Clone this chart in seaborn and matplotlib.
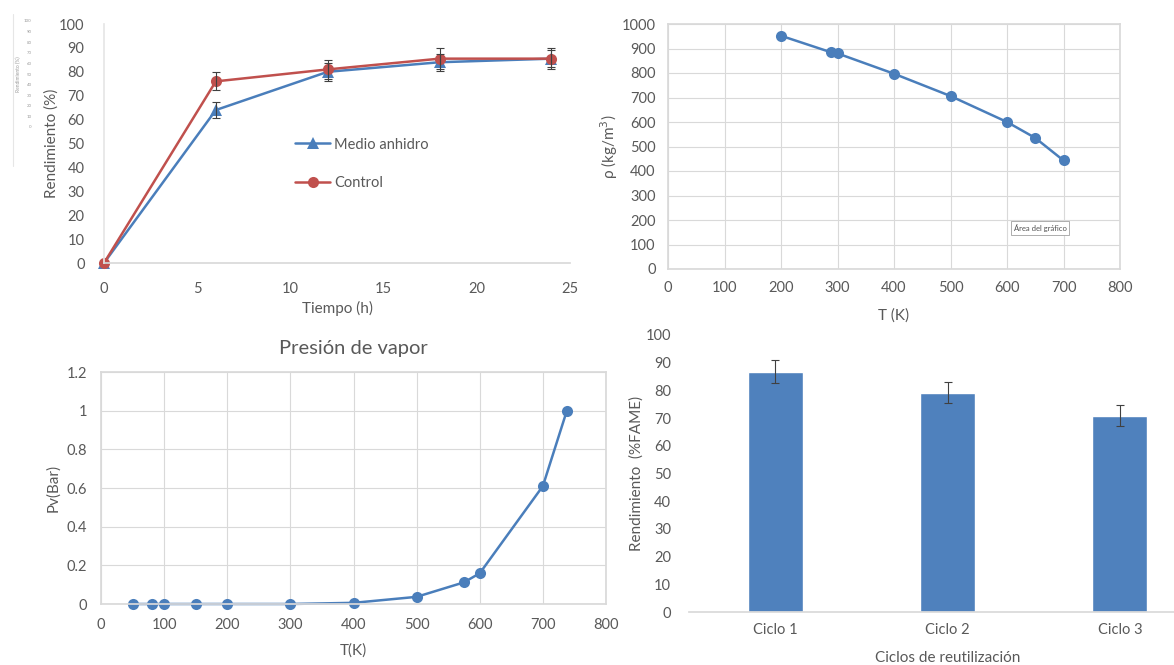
import numpy as np
import pandas as pd
import matplotlib
matplotlib.use("Agg")
import matplotlib.pyplot as plt
from matplotlib.lines import Line2D
import seaborn as sns

# --- data ---
tiempo = [0, 6, 12, 18, 24]
medio_anhidro = [0, 64, 80, 84, 85.5]
medio_anhidro_err = [0, 3.2, 3.8, 3.5, 3.5]
control = [0, 76, 81, 85.5, 85.5]
control_err = [0, 3.8, 4.0, 4.5, 4.4]

temp_rho = [200, 288, 300, 400, 500, 600, 650, 700]
rho = [952, 885, 880, 797, 706, 600, 535, 443]

temp_pv = [50, 80, 100, 150, 200, 300, 400, 500, 575, 600, 700, 738]
pv = [0, 0, 0, 0, 0, 0, 0.006, 0.037, 0.112, 0.159, 0.61, 1.0]

ciclos = ["Ciclo 1", "Ciclo 2", "Ciclo 3"]
rend_fame = [86.8, 79.2, 70.9]
rend_fame_err = [4.3, 3.9, 3.7]

mini_ticks = [0, 10, 20, 30, 40, 50, 60, 70, 80, 90, 100]

BLUE = "#4A7EBB"
BLUE_BAR = "#4F81BD"
RED = "#C0504D"
TXT = "#595959"
GRID = "#D9D9D9"

sns.set_theme(style="white")
plt.rcParams["font.family"] = ["Lato", "DejaVu Sans"]
plt.rcParams["text.color"] = TXT
plt.rcParams["axes.labelcolor"] = TXT
plt.rcParams["xtick.color"] = TXT
plt.rcParams["ytick.color"] = TXT

W, H = 1174, 665
fig = plt.figure(figsize=(W / 100, H / 100), dpi=100)


def rect(l, t, r, b):
    return [l / W, 1 - b / H, (r - l) / W, (b - t) / H]


def style(ax, grid=False, box=False, pad=10):
    for s in ax.spines.values():
        s.set_visible(False)
    ax.spines["bottom"].set_visible(True)
    ax.spines["bottom"].set_color(GRID)
    if box:
        for s in ax.spines.values():
            s.set_visible(True)
            s.set_color(GRID)
    if grid:
        ax.grid(True, color=GRID, lw=0.8)
        ax.set_axisbelow(True)
    else:
        ax.grid(False)
    ax.tick_params(length=0, labelsize=10.5, pad=pad)


# --- panel 1: rendimiento vs tiempo ---
ax1 = fig.add_axes(rect(104, 24, 570, 263))
df1 = pd.DataFrame({"t": tiempo * 2,
                    "y": medio_anhidro + control,
                    "serie": ["Medio anhidro"] * 5 + ["Control"] * 5})
sns.lineplot(data=df1, x="t", y="y", hue="serie", style="serie",
             palette={"Medio anhidro": BLUE, "Control": RED},
             markers={"Medio anhidro": "^", "Control": "o"}, dashes=False,
             lw=1.8, markersize=8, markeredgewidth=0, ax=ax1, clip_on=False)
ax1.errorbar(tiempo, medio_anhidro, yerr=medio_anhidro_err, fmt="none",
             ecolor="#404040", elinewidth=0.8, capsize=3, capthick=0.8)
ax1.errorbar(tiempo, control, yerr=control_err, fmt="none",
             ecolor="#404040", elinewidth=0.8, capsize=3, capthick=0.8)
ax1.set_xlim(0, 25)
ax1.set_ylim(0, 100)
ax1.set_xticks([0, 5, 10, 15, 20, 25])
ax1.set_yticks(range(0, 101, 10))
style(ax1, pad=14)
ax1.spines["left"].set_visible(True)
ax1.spines["left"].set_color("#E6E6E6")
ax1.set_xlabel("Tiempo (h)", fontsize=11)
ax1.set_ylabel("Rendimiento (%)", fontsize=11)
ax1.yaxis.set_label_coords(-0.097, 0.5)
ax1.xaxis.set_label_coords(0.5, -0.159)
ax1.legend(loc="upper left", bbox_to_anchor=(0.41, 0.525), frameon=False,
           borderaxespad=0, borderpad=0, handlelength=2.4, handletextpad=0.3,
           labelspacing=1.7, fontsize=10.5, labelcolor=TXT)

# tiny pasted thumbnail of an axis in the top-left corner
ax0 = fig.add_axes(rect(33, 21, 100, 127))
ax0.set_ylim(0, 100)
ax0.set_yticks(mini_ticks)
ax0.set_xticks([])
ax0.tick_params(length=0, labelsize=3.2, pad=1, colors="#9A9A9A")
for s in ax0.spines.values():
    s.set_visible(False)
ax0.set_facecolor("none")
ax0.set_ylabel("Rendimiento (%)", fontsize=3.5, color="#9A9A9A", labelpad=2)
fig.add_artist(Line2D([13 / W, 13 / W], [1 - 166 / H, 1 - 14 / H],
                      color="#E6E6E6", lw=0.8))

# --- panel 2: densidad vs T ---
ax2 = fig.add_axes(rect(668, 24, 1120, 269))
sns.lineplot(x=temp_rho, y=rho, color=BLUE, lw=1.8, marker="o",
             markersize=8, markeredgewidth=0, ax=ax2)
ax2.set_xlim(0, 800)
ax2.set_ylim(0, 1000)
ax2.set_xticks(range(0, 801, 100))
ax2.set_yticks(range(0, 1001, 100))
style(ax2, grid=True, box=True, pad=9)
ax2.set_xlabel("T (K)", fontsize=11)
ax2.set_ylabel("ρ (kg/m$^3$)", fontsize=11)
ax2.yaxis.set_label_coords(-0.106, 0.5)
ax2.xaxis.set_label_coords(0.5, -0.159)
ax2.text(0.823, 0.169, "Área del gráfico", transform=ax2.transAxes,
         fontsize=5.5, ha="center", va="center", color="#505050",
         bbox=dict(boxstyle="square,pad=0.4", fc="white", ec="#A0A0A0", lw=0.6))

# --- panel 3: presion de vapor ---
ax3 = fig.add_axes(rect(101, 372, 606, 604))
sns.lineplot(x=temp_pv, y=pv, color=BLUE, lw=1.8, marker="o",
             markersize=8, markeredgewidth=0, ax=ax3, clip_on=False)
ax3.set_xlim(0, 800)
ax3.set_ylim(0, 1.2)
ax3.set_xticks(range(0, 801, 100))
ax3.set_yticks([0, 0.2, 0.4, 0.6, 0.8, 1.0, 1.2])
ax3.set_yticklabels(["0", "0.2", "0.4", "0.6", "0.8", "1", "1.2"])
style(ax3, grid=True, box=True, pad=10)
ax3.set_title("Presión de vapor", fontsize=14.5, color=TXT, pad=13)
ax3.set_xlabel("T(K)", fontsize=11)
ax3.set_ylabel("Pv(Bar)", fontsize=11)
ax3.yaxis.set_label_coords(-0.081, 0.5)
ax3.xaxis.set_label_coords(0.5, -0.168)

# --- panel 4: ciclos de reutilizacion ---
ax4 = fig.add_axes(rect(689, 335, 1206, 612))
df4 = pd.DataFrame({"ciclo": ciclos, "rend": rend_fame})
sns.barplot(data=df4, x="ciclo", y="rend", color=BLUE_BAR, saturation=1,
            width=0.32, ax=ax4)
ax4.errorbar(range(len(ciclos)), rend_fame, yerr=rend_fame_err, fmt="none",
             ecolor="#404040", elinewidth=0.8, capsize=3, capthick=0.8)
ax4.set_xlim(-0.5, 2.5)
ax4.set_ylim(0, 100)
ax4.set_yticks(range(0, 101, 10))
style(ax4, pad=13)
ax4.tick_params(axis="x", pad=8)
ax4.set_xlabel("Ciclos de reutilización", fontsize=11)
ax4.set_ylabel("Rendimiento  (%FAME)", fontsize=11)
ax4.yaxis.set_label_coords(-0.087, 0.5)
ax4.xaxis.set_label_coords(0.5, -0.141)

fig.savefig("out.png", dpi=100)
